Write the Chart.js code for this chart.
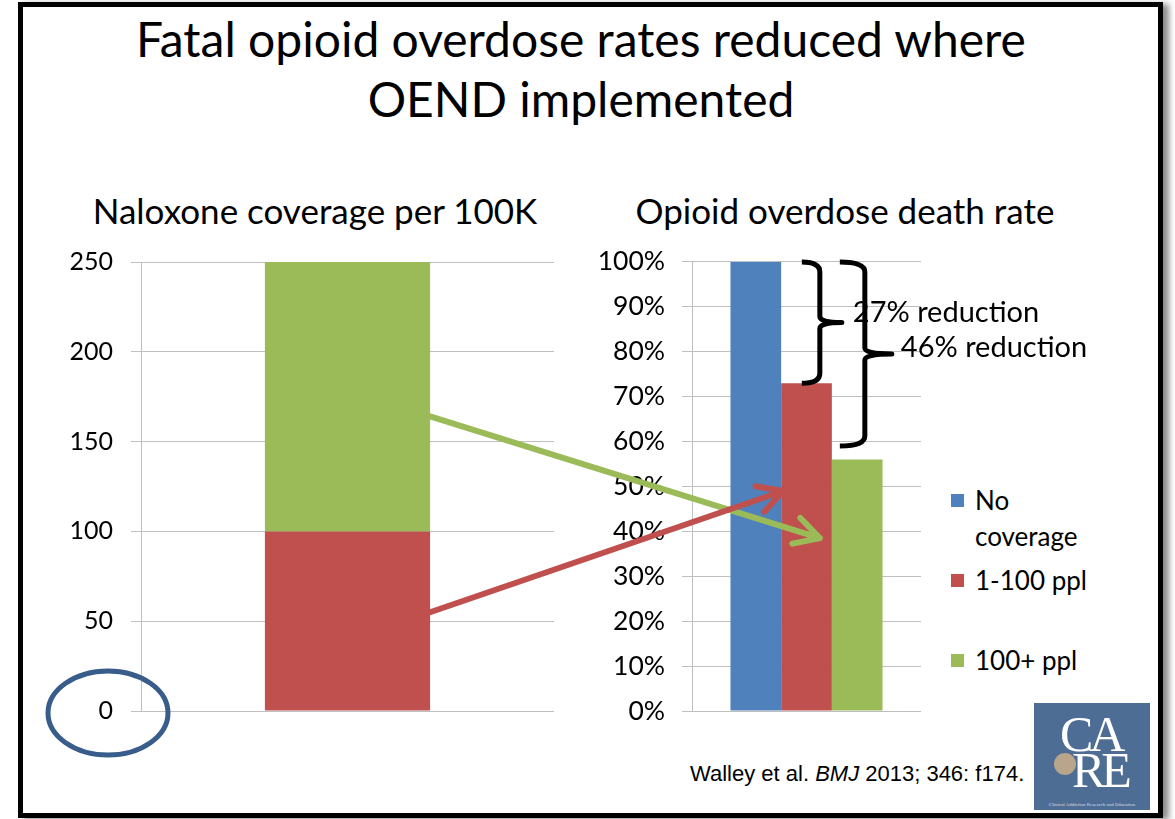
<!DOCTYPE html>
<html>
<head>
<meta charset="utf-8">
<script src="https://cdn.jsdelivr.net/npm/chart.js@4.4.1/dist/chart.umd.min.js"></script>
<style>
    html, body { margin: 0; padding: 0; background: #fff; }
    body { width: 1175px; height: 819px; position: relative; overflow: hidden; font-family: Lato, sans-serif; color: #000; }
    .slide { position: absolute; left: 18px; top: 2px; width: 1135px; height: 806px; border: 5px solid #000; box-shadow: 6px 2px 6px rgba(0,0,0,0.45); background: #fff; }
    .title { position: absolute; left: 0; top: 9px; width: 1162px; text-align: center; font-size: 48px; line-height: 60px; }
    .subtitle { position: absolute; top: 188px; width: 500px; text-align: center; font-size: 35px; line-height: 44px; }
    .chart-box { position: absolute; }
    .chart-legend { position: absolute; left: 951px; top: 482px; }
    .chart-legend ul { list-style: none; margin: 0; padding: 0; }
    .chart-legend li { height: 80px; display: flex; align-items: flex-start; font-size: 26px; line-height: 36px; }
    .legend-box { width: 13px; height: 13px; margin: 12px 11px 0 0; flex: none; }
    .legend-label { width: 125px; }
    .citation { position: absolute; left: 690px; top: 761px; font-family: "Liberation Sans", Arial, sans-serif; font-size: 22px; }
    .logo { position: absolute; left: 1034px; top: 703px; width: 116px; height: 107px; background: #4e6d94; color: #fff; font-family: "Liberation Serif", serif; overflow: hidden; }
    .logo .ca { position: absolute; left: 26px; top: 6px; font-size: 50px; line-height: 50px; letter-spacing: -4px; }
    .logo .re { position: absolute; left: 38px; top: 42px; font-size: 50px; line-height: 50px; letter-spacing: -4px; }
    .logo .head { position: absolute; left: 20px; top: 50px; width: 22px; height: 22px; border-radius: 50%; background: #b9a58a; }
    .logo .cap { position: absolute; left: 4px; bottom: 3px; width: 108px; font-size: 5px; text-align: center; color: #d8dde6; }
    #overlay { position: absolute; left: 0; top: 0; pointer-events: none; }
</style>
</head>
<body>
<div class="slide"></div>
<div class="title">Fatal opioid overdose rates reduced where<br>OEND implemented</div>
<div class="subtitle" style="left:65px">Naloxone coverage per 100K</div>
<div class="subtitle" style="left:595px">Opioid overdose death rate</div>

<div class="chart-box" style="left:30px; top:229px; width:540px; height:515px;">
    <canvas id="coverageChart"></canvas>
</div>
<div class="chart-box" style="left:580px; top:229px; width:357px; height:515px;">
    <canvas id="rateChart"></canvas>
</div>
<div class="chart-legend" data-chart-id="rateChart"></div>

<div class="citation">Walley et al. <i>BMJ</i> 2013; 346: f174.</div>
<div class="logo">
    <div class="ca">CA</div>
    <div class="head"></div>
    <div class="re">RE</div>
    <div class="cap">Clinical Addiction Research and Education</div>
</div>

<canvas id="overlay" width="1175" height="819"></canvas>

<script>
(function () {
    // left chart: naloxone coverage, one stacked bar
    const coverageCategories = [''];
    const coverageLow = [100];      // 1-100 ppl part
    const coverageHigh = [150];     // 100+ ppl part, stacks up to 250
    const coverageTicks = [0, 50, 100, 150, 200, 250];

    // right chart: death rate relative to no coverage
    const rateCategories = [''];
    const seriesLabels = ['No coverage', '1-100 ppl', '100+ ppl'];
    const deathRates = [100, 73, 56];
    const rateTicks = [0, 10, 20, 30, 40, 50, 60, 70, 80, 90, 100];

    const colors = ['#4F81BD', '#C0504D', '#9BBB59'];
    const gridColor = '#bfbfbf';

    Chart.defaults.color = '#000';
    Chart.defaults.font.family = 'Lato';

    function yAxis(ticks, width, pad, size, fmt) {
        return {
            min: ticks[0],
            max: ticks[ticks.length - 1],
            afterBuildTicks: (axis) => { axis.ticks = ticks.map(v => ({ value: v })); },
            afterFit: (axis) => { axis.width = width; },
            grid: { color: gridColor, lineWidth: 1, tickLength: 10, drawTicks: true },
            border: { display: true, color: gridColor, width: 1 },
            ticks: { font: { family: 'Lato', size: size }, color: '#000', padding: pad, callback: fmt }
        };
    }

    function baseOptions() {
        return {
            responsive: true,
            maintainAspectRatio: false,
            animation: false,
            devicePixelRatio: 1,
            layout: { padding: { top: 16, bottom: 16, right: 16, left: 0 } },
            plugins: { legend: { display: false }, tooltip: { enabled: false } }
        };
    }

    const coverageChart = new Chart(document.getElementById('coverageChart'), {
        type: 'bar',
        data: {
            labels: coverageCategories,
            datasets: [
                { label: '1-100 ppl', data: coverageLow, backgroundColor: colors[1] },
                { label: '100+ ppl', data: coverageHigh, backgroundColor: colors[2] }
            ]
        },
        options: {
            ...baseOptions(),
            datasets: { bar: { categoryPercentage: 0.4, barPercentage: 1 } },
            scales: {
                x: { display: false, stacked: true },
                y: { ...yAxis(coverageTicks, 111, 18, 25, v => v), stacked: true }
            }
        }
    });

    const rateChart = new Chart(document.getElementById('rateChart'), {
        type: 'bar',
        data: {
            labels: rateCategories,
            datasets: seriesLabels.map((label, i) => ({
                label: label,
                data: [deathRates[i]],
                backgroundColor: colors[i]
            }))
        },
        options: {
            ...baseOptions(),
            datasets: { bar: { categoryPercentage: 0.664, barPercentage: 1 } },
            scales: {
                x: { display: false },
                y: yAxis(rateTicks, 112, 17, 26.5, v => v + '%')
            }
        }
    });

    function buildVerticalLegend(chart, container) {
        const ul = document.createElement('ul');
        chart.data.datasets.forEach(ds => {
            const li = document.createElement('li');
            const box = document.createElement('span');
            box.classList.add('legend-box');
            box.style.backgroundColor = ds.backgroundColor;
            const label = document.createElement('span');
            label.classList.add('legend-label');
            label.textContent = ds.label;
            li.appendChild(box);
            li.appendChild(label);
            ul.appendChild(li);
        });
        container.appendChild(ul);
    }

    buildVerticalLegend(rateChart, document.querySelector('.chart-legend[data-chart-id="rateChart"]'));

    // page position helpers for the overlay
    function offset(chart) {
        const r = chart.canvas.getBoundingClientRect();
        return { x: r.left, y: r.top };
    }
    function barEdges(chart, dsIndex) {
        const bar = chart.getDatasetMeta(dsIndex).data[0];
        const o = offset(chart);
        return { left: o.x + bar.x - bar.width / 2, right: o.x + bar.x + bar.width / 2 };
    }
    function yPix(chart, v) {
        return offset(chart).y + chart.scales.y.getPixelForValue(v);
    }

    function arrow(ctx, x0, y0, x1, y1, color) {
        const a = Math.atan2(y1 - y0, x1 - x0);
        const len = 28;
        ctx.strokeStyle = color;
        ctx.lineWidth = 6;
        ctx.lineCap = 'round';
        ctx.lineJoin = 'round';
        ctx.beginPath();
        ctx.moveTo(x0, y0);
        ctx.lineTo(x1, y1);
        ctx.moveTo(x1 - len * Math.cos(a - 0.5), y1 - len * Math.sin(a - 0.5));
        ctx.lineTo(x1, y1);
        ctx.lineTo(x1 - len * Math.cos(a + 0.5), y1 - len * Math.sin(a + 0.5));
        ctx.stroke();
    }

    function bracket(ctx, xl, xv, xt, top, bottom) {
        const mid = (top + bottom) / 2;
        ctx.strokeStyle = '#000';
        ctx.lineWidth = 5;
        ctx.lineCap = 'butt';
        ctx.lineJoin = 'round';
        ctx.beginPath();
        ctx.moveTo(xl, top);
        ctx.quadraticCurveTo(xv, top, xv, top + 10);
        ctx.lineTo(xv, mid - 6);
        ctx.quadraticCurveTo(xv, mid, xt, mid);
        ctx.quadraticCurveTo(xv, mid, xv, mid + 6);
        ctx.lineTo(xv, bottom - 10);
        ctx.quadraticCurveTo(xv, bottom, xl, bottom);
        ctx.stroke();
    }

    function drawOverlay() {
        const ctx = document.getElementById('overlay').getContext('2d');
        ctx.clearRect(0, 0, 1175, 819);

        const stackBar = barEdges(coverageChart, 0);
        const redBar = barEdges(rateChart, 1);
        const greenBar = barEdges(rateChart, 2);

        // coverage -> death rate arrows
        arrow(ctx, stackBar.right, yPix(coverageChart, 164), greenBar.left - 12, yPix(rateChart, 38.5), colors[2]);
        arrow(ctx, stackBar.right, yPix(coverageChart, 55), redBar.left + 2, yPix(rateChart, 49), colors[1]);

        // reduction brackets
        const top = yPix(rateChart, deathRates[0]);
        bracket(ctx, redBar.right - 30, redBar.right - 12, redBar.right + 10, top, yPix(rateChart, deathRates[1]));
        bracket(ctx, redBar.right + 8, redBar.right + 33, redBar.right + 60, top, yPix(rateChart, 59));

        ctx.fillStyle = '#000';
        ctx.font = '29px Lato';
        ctx.textBaseline = 'middle';
        ctx.textAlign = 'left';
        ctx.fillText('27% reduction', redBar.right + 21, yPix(rateChart, 88.6));
        ctx.fillText('46% reduction', redBar.right + 69, yPix(rateChart, 81));

        // circle round the zero label
        const o = offset(coverageChart);
        ctx.strokeStyle = '#385D8A';
        ctx.lineWidth = 5;
        ctx.beginPath();
        ctx.ellipse(o.x + coverageChart.chartArea.left - 33, yPix(coverageChart, 0) + 2, 60, 42, 0, 0, Math.PI * 2);
        ctx.stroke();
    }

    drawOverlay();
})();
</script>
</body>
</html>
